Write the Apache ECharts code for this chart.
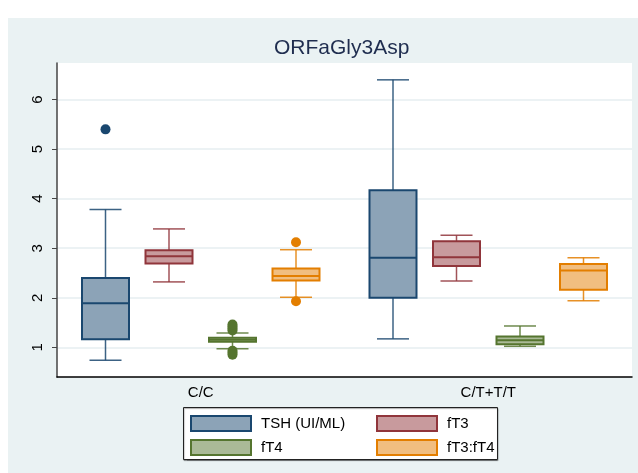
<!DOCTYPE html>
<html lang="en">
<head>
    <meta charset="utf-8">
    <title>ORFaGly3Asp</title>
    <script src="https://cdn.jsdelivr.net/npm/echarts@6.0.0/dist/echarts.min.js"></script>
    <style>
        html, body { margin: 0; padding: 0; background: #fff; }
        #chart { width: 638px; height: 473px; }
    </style>
</head>
<body>
<div id="chart"></div>
<script type="text/javascript">

// genotype groups
var groups = ['C/C', 'C/T+T/T'];
var yTicks = [1, 2, 3, 4, 5, 6];

// [lower whisker, Q1, median, Q3, upper whisker] per group
var tshBox   = [[0.74, 1.16, 1.89, 2.40, 3.78], [1.17, 2.00, 2.81, 4.17, 6.40]];
var ft3Box   = [[2.32, 2.69, 2.84, 2.96, 3.39], [2.34, 2.64, 2.82, 3.14, 3.26]];
var ft4Box   = [[0.97, 1.11, 1.15, 1.19, 1.29], [1.02, 1.06, 1.14, 1.22, 1.43]];
var ratioBox = [[2.01, 2.35, 2.44, 2.59, 2.97], [1.94, 2.16, 2.55, 2.68, 2.81]];

// outside values: [group index, value]
var tshOut   = [[0, 5.40]];
var ft3Out   = [];
var ft4Out   = [[0, 1.34], [0, 1.38], [0, 1.42], [0, 1.46], [0, 0.93], [0, 0.89], [0, 0.85]];
var ratioOut = [[0, 3.12], [0, 1.93]];

var seriesDefs = [
    { name: 'TSH (UI/ML)', box: tshBox,   out: tshOut,   stroke: '#1a476f', fill: '#8ca3b7', offset: -95.25 },
    { name: 'fT3',         box: ft3Box,   out: ft3Out,   stroke: '#90353b', fill: '#c89a9d', offset: -31.75 },
    { name: 'fT4',         box: ft4Box,   out: ft4Out,   stroke: '#55752f', fill: '#aaba97', offset: 31.75 },
    { name: 'fT3:fT4',     box: ratioBox, out: ratioOut, stroke: '#e37e00', fill: '#f1be80', offset: 95.25 }
];

function boxRenderer(offset, stroke, fill) {
    return function (params, api) {
        var c = api.value(0);
        var p = [1, 2, 3, 4, 5].map(function (i) { return api.coord([c, api.value(i)]); });
        var x = p[0][0] + offset;
        var hw = 23.5, cw = 16;
        var line = { stroke: stroke, lineWidth: 1.5, opacity: 0.85 };
        return {
            type: 'group',
            children: [
                { type: 'line', shape: { x1: x, y1: p[0][1], x2: x, y2: p[1][1] }, style: line },
                { type: 'line', shape: { x1: x, y1: p[3][1], x2: x, y2: p[4][1] }, style: line },
                { type: 'line', shape: { x1: x - cw, y1: p[0][1], x2: x + cw, y2: p[0][1] }, style: line },
                { type: 'line', shape: { x1: x - cw, y1: p[4][1], x2: x + cw, y2: p[4][1] }, style: line },
                { type: 'rect', shape: { x: x - hw, y: p[3][1], width: 2 * hw, height: p[1][1] - p[3][1] },
                  style: { fill: fill, stroke: stroke, lineWidth: 2 } },
                { type: 'line', shape: { x1: x - hw, y1: p[2][1], x2: x + hw, y2: p[2][1] },
                  style: { stroke: stroke, lineWidth: 2 } }
            ]
        };
    };
}

var series = [];
seriesDefs.forEach(function (d) {
    series.push({
        name: d.name,
        type: 'custom',
        renderItem: boxRenderer(d.offset, d.stroke, d.fill),
        itemStyle: { color: d.fill, borderColor: d.stroke, borderWidth: 1.5 },
        encode: { x: 0, y: [1, 2, 3, 4, 5] },
        data: d.box.map(function (b, i) { return [i].concat(b); }),
        z: 3
    });
    series.push({
        name: d.name + ' outside',
        type: 'scatter',
        symbol: 'circle',
        symbolSize: 10,
        symbolOffset: [d.offset, 0],
        itemStyle: { color: d.stroke, opacity: 1 },
        data: d.out,
        z: 4
    });
});

var chart = echarts.init(document.getElementById('chart'));
var option = {
    backgroundColor: '#eaf2f3',
    animation: false,
    textStyle: { fontFamily: 'Liberation Sans, Arial, sans-serif' },
    title: {
        text: 'ORFaGly3Asp',
        left: 274,
        top: 38,
        padding: 0,
        textStyle: { fontSize: 21, fontWeight: 'normal', color: '#1f2d4f' }
    },
    graphic: [
        { type: 'rect', shape: { x: 0, y: 0, width: 638, height: 18 }, style: { fill: '#fff' }, silent: true },
        { type: 'rect', shape: { x: 0, y: 0, width: 8, height: 473 }, style: { fill: '#fff' }, silent: true },
        { type: 'rect', shape: { x: 183.5, y: 407.5, width: 314, height: 52 },
          style: { fill: '#fff', stroke: '#222', lineWidth: 1, shadowColor: 'rgba(0,0,0,0.35)', shadowOffsetY: 1, shadowOffsetX: 0.5, shadowBlur: 1 },
          silent: true }
    ],
    legend: [
        {
            data: ['TSH (UI/ML)', 'fT4'],
            orient: 'vertical',
            left: 190,
            top: 415,
            padding: 0,
            itemGap: 7,
            itemWidth: 60,
            itemHeight: 15,
            icon: 'rect',
            selectedMode: false,
            textStyle: { fontSize: 15, color: '#000', padding: [0, 0, 0, 5], lineHeight: 15 }
        },
        {
            data: ['fT3', 'fT3:fT4'],
            orient: 'vertical',
            left: 376,
            top: 415,
            padding: 0,
            itemGap: 7,
            itemWidth: 60,
            itemHeight: 15,
            icon: 'rect',
            selectedMode: false,
            textStyle: { fontSize: 15, color: '#000', padding: [0, 0, 0, 5], lineHeight: 15 }
        }
    ],
    grid: {
        left: 57,
        right: 6,
        top: 63,
        bottom: 96,
        show: true,
        backgroundColor: '#fff',
        borderWidth: 0
    },
    xAxis: {
        type: 'category',
        data: groups,
        axisLine: { lineStyle: { color: '#000', width: 1.5 } },
        axisTick: { show: false },
        axisLabel: { fontSize: 15, color: '#000', margin: 8 },
        splitLine: { show: false }
    },
    yAxis: {
        type: 'value',
        min: 0.4,
        max: 6.74,
        axisLine: { show: true, lineStyle: { color: '#444', width: 1.5 } },
        axisTick: { show: true, length: 5, customValues: yTicks, lineStyle: { color: '#444' } },
        axisLabel: { fontSize: 15, color: '#000', rotate: 90, margin: 12, customValues: yTicks },
        splitLine: { show: true, lineStyle: { color: '#e6eef0', width: 1.5 } }
    },
    series: series
};
chart.setOption(option);

</script>
</body>
</html>
